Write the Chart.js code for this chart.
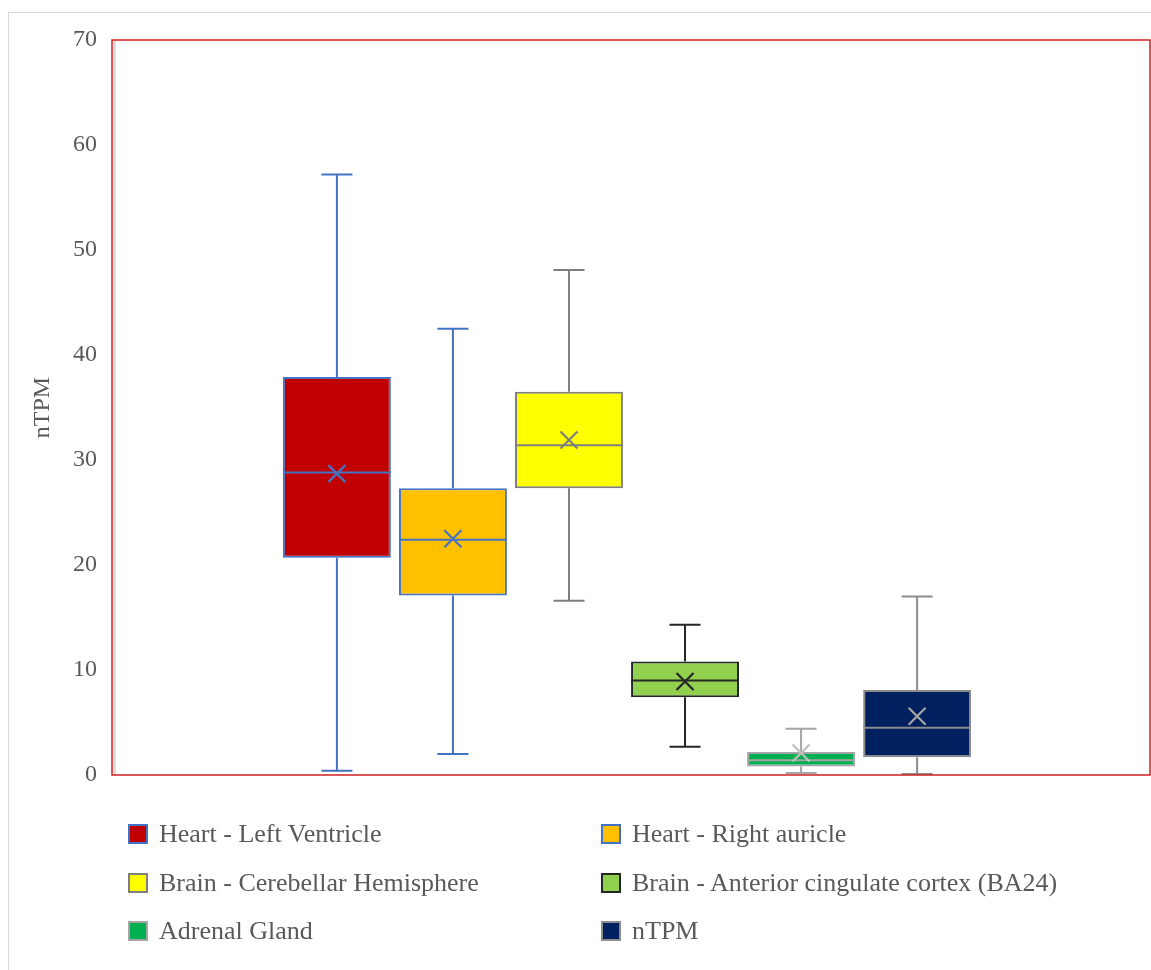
<!DOCTYPE html>
<html>
<head>
<meta charset="utf-8">
<script src="https://cdn.jsdelivr.net/npm/chart.js@4/dist/chart.umd.min.js"></script>
<style>
  body { margin: 0; background: #fff; font-family: "Liberation Serif", serif; }
  #frame { position: absolute; left: 8px; top: 12px; width: 1200px; height: 1000px; border: 1px solid #d9d9d9; }
  #wrap { position: absolute; left: 0; top: 0; width: 1151px; height: 970px; }
  #legend { position: absolute; left: 0; top: 0; width: 1151px; height: 970px; pointer-events: none; }
  .item { position: absolute; display: flex; align-items: center; font-size: 26px; color: #595959; white-space: nowrap; }
  .sw { width: 16px; height: 16px; border: 2px solid; margin-right: 11px; }
</style>
</head>
<body>
<div id="frame"></div>
<div id="wrap"><canvas id="myChart" width="1151" height="970"></canvas></div>
<div id="legend"></div>
<script>
// boxplot values
const seriesNames = ["Heart - Left Ventricle", "Heart - Right auricle", "Brain - Cerebellar Hemisphere",
  "Brain - Anterior cingulate cortex (BA24)", "Adrenal Gland", "nTPM"];
const minVals = [0.4, 2.0, 16.6, 2.7, 0.2, 0.1];
const q1Vals = [20.7, 17.1, 27.3, 7.4, 0.8, 1.7];
const medianVals = [28.8, 22.4, 31.4, 9.0, 1.4, 4.5];
const meanVals = [28.7, 22.5, 31.9, 8.9, 2.1, 5.6];
const q3Vals = [37.9, 27.3, 36.5, 10.8, 2.2, 8.1];
const maxVals = [57.2, 42.5, 48.1, 14.3, 4.4, 17.0];
const yTicks = [0, 10, 20, 30, 40, 50, 60, 70];

const fillColors = ["#C00000", "#FFC000", "#FFFF00", "#92D050", "#00B050", "#002060"];
const lineColors = ["#4472C4", "#4472C4", "#7F7F7F", "#262626", "#A5A5A5", "#8C8C8C"];
const markColors = ["#4472C4", "#4472C4", "#7F7F7F", "#262626", "#BFBFBF", "#A5A5A5"];

const datasets = seriesNames.map((name, i) => ({
    label: name,
    data: [[q1Vals[i], q3Vals[i]]],
    backgroundColor: fillColors[i],
    borderColor: lineColors[i],
    borderWidth: 2,
    borderSkipped: false
}));

// whiskers, median lines, mean markers and the red frame
const boxExtras = {
    id: 'boxExtras',
    beforeDatasetsDraw(chart) {
        const ctx = chart.ctx;
        const y = chart.scales.y;
        ctx.save();
        chart.data.datasets.forEach((ds, i) => {
            const bar = chart.getDatasetMeta(i).data[0];
            const x = bar.x;
            const cap = 15.5;
            ctx.strokeStyle = lineColors[i];
            ctx.lineWidth = 2;
            ctx.beginPath();
            ctx.moveTo(x, y.getPixelForValue(q3Vals[i]));
            ctx.lineTo(x, y.getPixelForValue(maxVals[i]));
            ctx.moveTo(x - cap, y.getPixelForValue(maxVals[i]));
            ctx.lineTo(x + cap, y.getPixelForValue(maxVals[i]));
            ctx.moveTo(x, y.getPixelForValue(q1Vals[i]));
            ctx.lineTo(x, y.getPixelForValue(minVals[i]));
            ctx.moveTo(x - cap, y.getPixelForValue(minVals[i]));
            ctx.lineTo(x + cap, y.getPixelForValue(minVals[i]));
            ctx.stroke();
        });
        ctx.restore();
    },
    afterDatasetsDraw(chart) {
        const ctx = chart.ctx;
        const y = chart.scales.y;
        ctx.save();
        chart.data.datasets.forEach((ds, i) => {
            const bar = chart.getDatasetMeta(i).data[0];
            const half = bar.width / 2;
            ctx.strokeStyle = lineColors[i];
            ctx.lineWidth = 2;
            ctx.beginPath();
            const ym = y.getPixelForValue(medianVals[i]);
            ctx.moveTo(bar.x - half, ym);
            ctx.lineTo(bar.x + half, ym);
            ctx.stroke();
            // mean marker
            ctx.strokeStyle = markColors[i];
            ctx.lineWidth = 2.2;
            ctx.beginPath();
            const xm = bar.x, yy = y.getPixelForValue(meanVals[i]), r = 8.5;
            ctx.moveTo(xm - r, yy - r); ctx.lineTo(xm + r, yy + r);
            ctx.moveTo(xm + r, yy - r); ctx.lineTo(xm - r, yy + r);
            ctx.stroke();
        });
        const a = chart.chartArea;
        ctx.fillStyle = '#dcdcdc';
        ctx.fillRect(a.left + 1, a.top, 3, a.bottom - a.top);
        ctx.strokeStyle = '#D02020';
        ctx.lineWidth = 1.5;
        ctx.strokeRect(a.left, a.top, 1150 - a.left, a.bottom - a.top);
        ctx.restore();
    }
};

const chart = new Chart(document.getElementById('myChart'), {
    type: 'bar',
    data: { labels: [''], datasets },
    options: {
        responsive: false,
        animation: false,
        layout: { padding: { top: 40, right: 9, bottom: 195, left: 0 } },
        datasets: { bar: { categoryPercentage: 0.676, barPercentage: 0.93 } },
        plugins: { legend: { display: false }, tooltip: { enabled: false } },
        scales: {
            x: { display: false },
            y: {
                min: 0, max: 70,
                afterBuildTicks: (axis) => { axis.ticks = yTicks.map(v => ({ value: v })); },
                afterFit: (axis) => { axis.width = 112; },
                grid: { display: false },
                border: { display: false },
                ticks: { color: '#595959', padding: 7, font: { family: 'Liberation Serif', size: 24 } },
                title: { display: true, text: 'nTPM', color: '#595959', padding: { top: 28, bottom: 0 },
                    font: { family: 'Liberation Serif', size: 24 } }
            }
        }
    },
    plugins: [boxExtras]
});

// legend as two columns, built from the chart's datasets
const legend = document.getElementById('legend');
const colX = [128, 601];
const rowY = [834, 883, 931];
chart.data.datasets.forEach((ds, i) => {
    const el = document.createElement('div');
    el.className = 'item';
    el.style.left = colX[i % 2] + 'px';
    el.style.top = (rowY[Math.floor(i / 2)] - 16) + 'px';
    el.style.height = '32px';
    el.innerHTML = '<span class="sw" style="background:' + ds.backgroundColor + ';border-color:' + ds.borderColor + '"></span>' + ds.label;
    legend.appendChild(el);
});
</script>
</body>
</html>
